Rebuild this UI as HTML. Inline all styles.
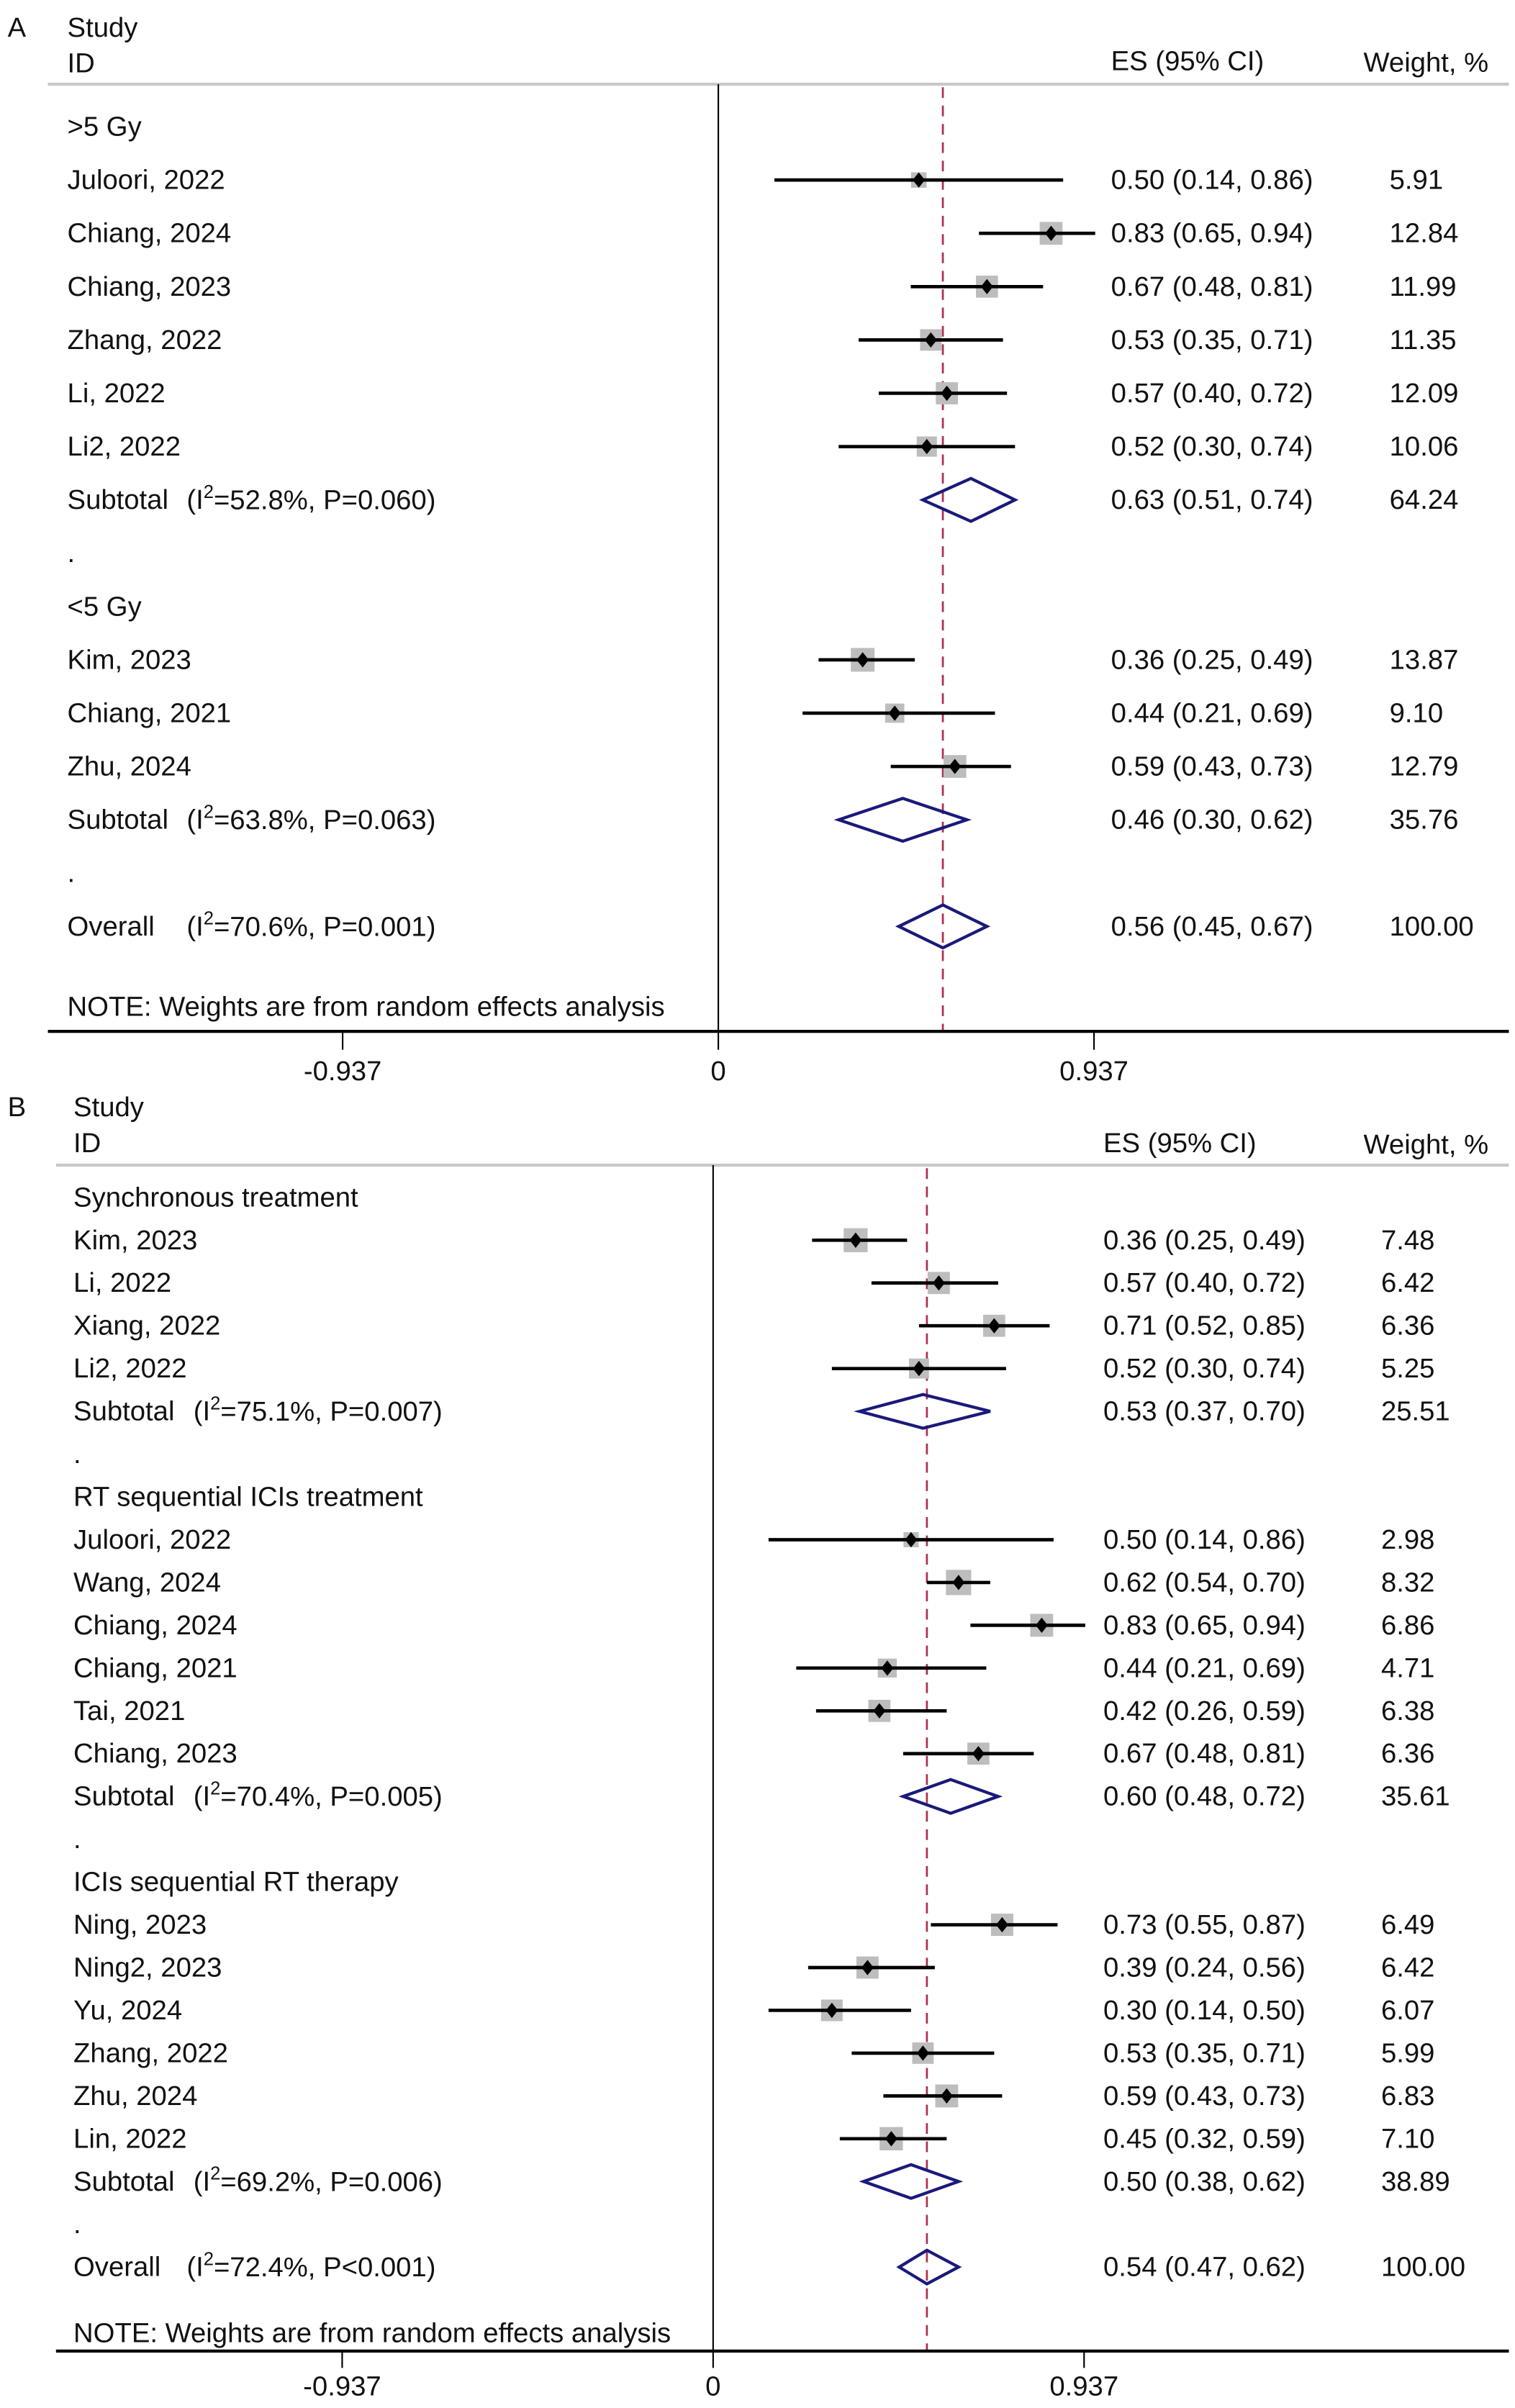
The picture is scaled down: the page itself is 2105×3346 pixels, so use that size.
<!DOCTYPE html>
<html><head><meta charset="utf-8"><style>
html,body{margin:0;padding:0;background:#fff;}
svg{display:block;}
text{font-family:"Liberation Sans",Arial,sans-serif;font-size:18px;fill:#111;}
</style></head><body>
<svg id="chart" width="2105" height="3346" viewBox="0 0 990 1573.6" preserveAspectRatio="none" xmlns="http://www.w3.org/2000/svg">
<g id="pA"></g>
<g id="pB"></g>
</svg>
<script>
// Panel A data
const aLabels=["Juloori, 2022","Chiang, 2024","Chiang, 2023","Zhang, 2022","Li, 2022","Li2, 2022","Subtotal","Kim, 2023","Chiang, 2021","Zhu, 2024","Subtotal","Overall"];
const aRows=[1,2,3,4,5,6,7,10,11,12,13,15];
const aES=[0.50,0.83,0.67,0.53,0.57,0.52,0.63,0.36,0.44,0.59,0.46,0.56];
const aLo=[0.14,0.65,0.48,0.35,0.40,0.30,0.51,0.25,0.21,0.43,0.30,0.45];
const aHi=[0.86,0.94,0.81,0.71,0.72,0.74,0.74,0.49,0.69,0.73,0.62,0.67];
const aW=[5.91,12.84,11.99,11.35,12.09,10.06,64.24,13.87,9.10,12.79,35.76,100.00];
const aStats=[null,null,null,null,null,null,"52.8%, P=0.060",null,null,null,"63.8%, P=0.063","70.6%, P=0.001"];
const aGroups=[["&gt;5 Gy",0],[".",8],["&lt;5 Gy",9],[".",14]];
// Panel B data
const bLabels=["Kim, 2023","Li, 2022","Xiang, 2022","Li2, 2022","Subtotal","Juloori, 2022","Wang, 2024","Chiang, 2024","Chiang, 2021","Tai, 2021","Chiang, 2023","Subtotal","Ning, 2023","Ning2, 2023","Yu, 2024","Zhang, 2022","Zhu, 2024","Lin, 2022","Subtotal","Overall"];
const bRows=[1,2,3,4,5,8,9,10,11,12,13,14,17,18,19,20,21,22,23,25];
const bES=[0.36,0.57,0.71,0.52,0.53,0.50,0.62,0.83,0.44,0.42,0.67,0.60,0.73,0.39,0.30,0.53,0.59,0.45,0.50,0.54];
const bLo=[0.25,0.40,0.52,0.30,0.37,0.14,0.54,0.65,0.21,0.26,0.48,0.48,0.55,0.24,0.14,0.35,0.43,0.32,0.38,0.47];
const bHi=[0.49,0.72,0.85,0.74,0.70,0.86,0.70,0.94,0.69,0.59,0.81,0.72,0.87,0.56,0.50,0.71,0.73,0.59,0.62,0.62];
const bW=[7.48,6.42,6.36,5.25,25.51,2.98,8.32,6.86,4.71,6.38,6.36,35.61,6.49,6.42,6.07,5.99,6.83,7.10,38.89,100.00];
const bStats=[null,null,null,null,"75.1%, P=0.007",null,null,null,null,null,null,"70.4%, P=0.005",null,null,null,null,null,null,"69.2%, P=0.006","72.4%, P<0.001"];
const bGroups=[["Synchronous treatment",0],[".",6],["RT sequential ICIs treatment",7],[".",15],["ICIs sequential RT therapy",16],[".",24]];
const tickVals=[-0.937,0,0.937];
const tickLabels=["-0.937","0","0.937"];

const NS="http://www.w3.org/2000/svg";
function mk(parent,tag,attrs,name){const e=document.createElementNS(NS,tag);for(const k in attrs)e.setAttribute(k,attrs[k]);


parent.appendChild(e);return e;}

function panel(g,cfg){
  const x=v=>cfg.x0+v*cfg.ppu;
  const y=r=>cfg.r0+r*cfg.dr;
  let t=mk(g,'text',{x:5,y:cfg.top,'font-size':22,'dominant-baseline':'central'},'panel-letter');t.textContent=cfg.letter;
  t=mk(g,'text',{x:cfg.tx,y:cfg.top,'dominant-baseline':'central'},'study-header');t.textContent="Study";
  t=mk(g,'text',{x:cfg.tx,y:cfg.top+23.5,'dominant-baseline':'central'},'id-header');t.textContent="ID";
  t=mk(g,'text',{x:cfg.esx,y:cfg.esHy,'dominant-baseline':'central'},'es-header');t.textContent="ES (95% CI)";
  t=mk(g,'text',{x:891,y:cfg.esHy+1,'dominant-baseline':'central'},'weight-header');t.textContent="Weight, %";
  mk(g,'line',{x1:cfg.lx,x2:986,y1:cfg.hl,y2:cfg.hl,stroke:'#c8c8c8','stroke-width':2},'header-rule');
  mk(g,'line',{x1:x(0),x2:x(0),y1:cfg.hl,y2:cfg.ax,stroke:'#000','stroke-width':1},'null-line');
  mk(g,'line',{x1:x(cfg.ov),x2:x(cfg.ov),y1:cfg.hl+2,y2:cfg.ax,stroke:'#b03050','stroke-width':1.3,'stroke-dasharray':'7,5'},'overall-effect-line');
  mk(g,'line',{x1:cfg.lx,x2:986,y1:cfg.ax,y2:cfg.ax,stroke:'#000','stroke-width':2},'x-axis');
  tickVals.forEach((v,i)=>{
    mk(g,'line',{x1:x(v),x2:x(v),y1:cfg.ax,y2:cfg.ax+cfg.tk,stroke:'#000','stroke-width':1},'x-tick');
    const tt=mk(g,'text',{x:x(v),y:cfg.ax+cfg.tl,'text-anchor':'middle','dominant-baseline':'central'},'x-tick-label');tt.textContent=tickLabels[i];
  });
  cfg.groups.forEach(gr=>{const tt=mk(g,'text',{x:cfg.tx,y:y(gr[1]),'dominant-baseline':'central'},'group-label');tt.innerHTML=gr[0];});
  const wmax=Math.max(...cfg.W.filter((w,i)=>!cfg.S[i]));
  cfg.L.forEach((lab,i)=>{
    const yy=y(cfg.R[i]);
    const lt=mk(g,'text',{x:cfg.tx,y:yy,'dominant-baseline':'central'},'study-label');lt.textContent=lab;
    if(cfg.S[i]){
      const st=mk(g,'text',{x:lab==="Overall"?cfg.ox:cfg.sx,y:yy,'dominant-baseline':'central'},'heterogeneity-stats');
      st.innerHTML='(I<tspan dy="-5" font-size="12">2</tspan><tspan dy="5">='+cfg.S[i].replace('<','&lt;')+')</tspan>';
      const h=cfg.dh;
      mk(g,'polygon',{points:`${x(cfg.Lo[i])},${yy} ${x(cfg.E[i])},${yy-h} ${x(cfg.Hi[i])},${yy} ${x(cfg.E[i])},${yy+h}`,fill:'none',stroke:'#1a1a7a','stroke-width':2},lab==="Overall"?'overall-diamond':'subtotal-diamond');
    } else {
      const s=cfg.bs*Math.sqrt(cfg.W[i]/wmax);
      mk(g,'rect',{x:x(cfg.E[i])-s/2,y:yy-s/2,width:s,height:s,fill:'#bdbdbd'},'weight-box');
      mk(g,'line',{x1:x(cfg.Lo[i]),x2:x(cfg.Hi[i]),y1:yy,y2:yy,stroke:'#000','stroke-width':2.2},'ci-line');
      mk(g,'polygon',{points:`${x(cfg.E[i])-4},${yy} ${x(cfg.E[i])},${yy-5} ${x(cfg.E[i])+4},${yy} ${x(cfg.E[i])},${yy+5}`,fill:'#000'},'point-estimate');
    }
    const et=mk(g,'text',{x:cfg.esx,y:yy,'dominant-baseline':'central'},'es-value');
    et.textContent=cfg.E[i].toFixed(2)+" ("+cfg.Lo[i].toFixed(2)+", "+cfg.Hi[i].toFixed(2)+")";
    const wt=mk(g,'text',{x:cfg.wx,y:yy,'dominant-baseline':'central'},'weight-value');wt.textContent=cfg.W[i].toFixed(2);
  });
  const nt=mk(g,'text',{x:cfg.tx,y:cfg.note,'dominant-baseline':'central'},'note');nt.textContent="NOTE: Weights are from random effects analysis";
}
panel(document.getElementById('pA'),{letter:"A",top:18,tx:44,sx:122,ox:122,esx:726,esHy:40,wx:908,lx:31.3,hl:55,ax:674,tk:12,tl:26,x0:469.4,ppu:262,ov:0.56,r0:82.8,dr:34.84,dh:14,bs:15.5,note:658,
  L:aLabels,R:aRows,E:aES,Lo:aLo,Hi:aHi,W:aW,S:aStats,groups:aGroups});
panel(document.getElementById('pB'),{letter:"B",top:723.5,tx:48,sx:126.4,ox:122,esx:721,esHy:747,wx:902.5,lx:36.6,hl:761.4,ax:1536.4,tk:11,tl:23,x0:466,ppu:258.7,ov:0.54,r0:782.5,dr:27.96,dh:11,bs:16.5,note:1524.6,
  L:bLabels,R:bRows,E:bES,Lo:bLo,Hi:bHi,W:bW,S:bStats,groups:bGroups});
</script>
</body></html>
